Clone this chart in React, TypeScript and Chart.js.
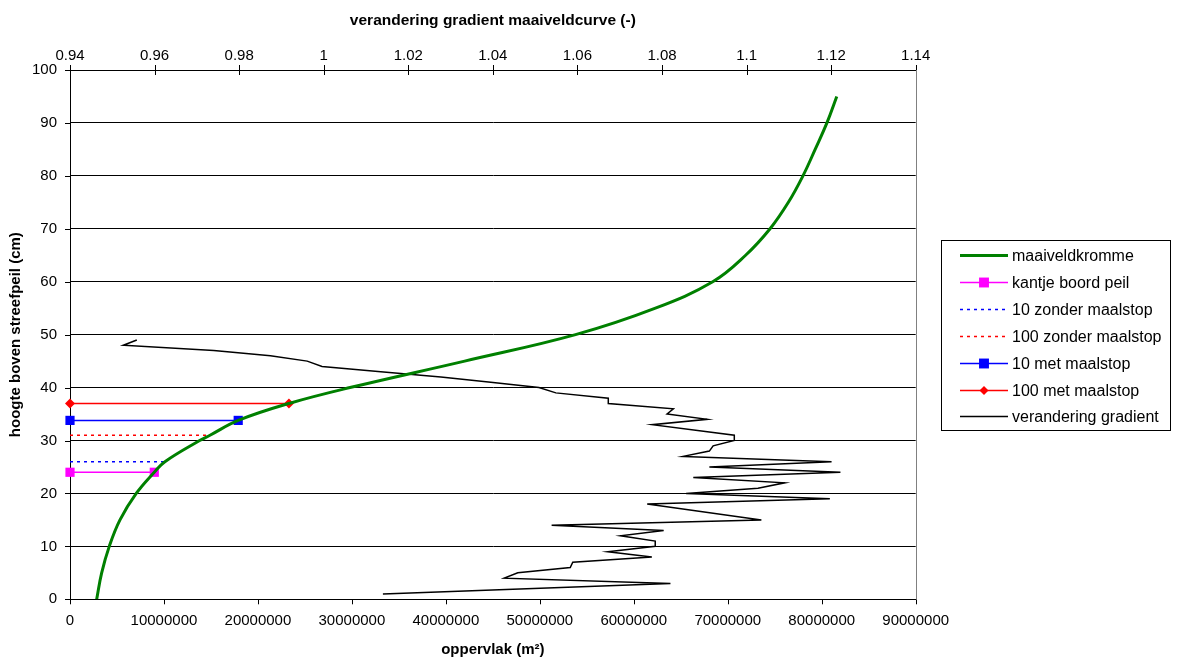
import React, { useEffect, useRef } from "react";
import { Chart, registerables } from "chart.js";

Chart.register(...registerables);

const FONT = "'Liberation Sans', Arial, sans-serif";

// maaiveldkromme: height (cm) vs area (m2)
const groundHeights = [0, 5, 10, 15, 20, 24, 26, 30, 31, 33.8, 37, 40, 45, 50, 55, 60, 65, 70, 75, 80, 85, 90, 95];
const groundAreas = [
  2840000, 3370000, 4180000, 5320000, 7050000, 8970000, 10100000, 13800000, 14900000, 17900000,
  23300000, 29800000, 42000000, 53800000, 62300000, 68400000, 71900000, 74500000, 76450000, 78000000,
  79300000, 80550000, 81600000,
];

// verandering gradient: height (cm) vs gradient change (-)
const gradientHeights = [49, 48, 47, 46, 45, 44, 43, 42, 41, 40, 39, 38, 37, 36, 35, 34, 33, 31, 30, 29, 28, 27, 26, 25, 24, 23, 22, 21, 20, 19, 18, 15, 14, 13, 12, 11, 10, 9, 8, 7, 6, 5, 4, 3, 1];
const gradientValues = [
  0.9558, 0.9526, 0.974, 0.9874, 0.9961, 0.9996, 1.0135, 1.0277, 1.0395, 1.0509, 1.0549, 1.0673, 1.0673,
  1.0827, 1.0812, 1.0907, 1.0777, 1.0971, 1.0971, 1.0921, 1.0912, 1.085, 1.1201, 1.0912, 1.1222, 1.0874,
  1.109, 1.1027, 1.0857, 1.1197, 1.0765, 1.1035, 1.0539, 1.0804, 1.0702, 1.0784, 1.0784, 1.0672, 1.0776,
  1.0589, 1.0583, 1.0459, 1.0427, 1.082, 1.014,
];

// water levels
const levelNames = ["kantje boord peil", "10 zonder maalstop", "100 zonder maalstop", "10 met maalstop", "100 met maalstop"];
const levelHeights = [24, 26, 31, 33.8, 37];
const levelAreas = [8970000, 10100000, 14900000, 17900000, 23300000];

const seriesNames = ["maaiveldkromme", ...levelNames, "verandering gradient"];

const areaMin = 0;
const areaMax = 90000000;
const areaStep = 10000000;
const gradMin = 0.94;
const gradMax = 1.14;
const gradStep = 0.02;
const heightMin = 0;
const heightMax = 100;
const heightStep = 10;

const levelStyles = [
  { color: "#FF00FF", dash: [] as number[], point: "rect", radius: 6.5 },
  { color: "#0000FF", dash: [3, 4], point: "circle", radius: 0 },
  { color: "#FF0000", dash: [3, 4], point: "circle", radius: 0 },
  { color: "#0000FF", dash: [] as number[], point: "rect", radius: 6.5 },
  { color: "#FF0000", dash: [] as number[], point: "rectRot", radius: 5 },
];

const LEGEND_X = 941.5;
const LEGEND_Y = 240.5;
const LEGEND_W = 229;
const LEGEND_H = 190;
const legendRowY = (i: number) => Math.round(255 + i * 26.9) + 0.5;

function drawMarker(ctx: CanvasRenderingContext2D, style: string, x: number, y: number, r: number, color: string) {
  ctx.save();
  ctx.fillStyle = color;
  ctx.setLineDash([]);
  if (style === "rect") {
    const s = Math.SQRT1_2 * r;
    ctx.fillRect(x - s, y - s, 2 * s, 2 * s);
  } else if (style === "rectRot") {
    ctx.beginPath();
    ctx.moveTo(x - r, y);
    ctx.lineTo(x, y - r);
    ctx.lineTo(x + r, y);
    ctx.lineTo(x, y + r);
    ctx.closePath();
    ctx.fill();
  }
  ctx.restore();
}

const decorPlugin = {
  id: "decor",
  afterDraw(chart: any) {
    const { ctx, chartArea: a, scales } = chart;
    ctx.save();
    ctx.strokeStyle = "#000";
    ctx.lineWidth = 1;
    ctx.setLineDash([]);
    const seg = (x1: number, y1: number, x2: number, y2: number) => {
      ctx.beginPath();
      ctx.moveTo(x1, y1);
      ctx.lineTo(x2, y2);
      ctx.stroke();
    };
    scales.y.ticks.forEach((t: any) => {
      const py = Math.round(scales.y.getPixelForValue(t.value)) + 0.5;
      seg(a.left - 5, py, a.left, py);
    });
    scales.x.ticks.forEach((t: any) => {
      const px = Math.round(scales.x.getPixelForValue(t.value)) + 0.5;
      seg(px, a.bottom, px, a.bottom + 5);
    });
    scales.x2.ticks.forEach((t: any) => {
      const px = Math.round(scales.x2.getPixelForValue(t.value)) + 0.5;
      seg(px, a.top - 5, px, a.top + 5);
    });
    ctx.strokeStyle = "#808080";
    const rx = Math.round(a.right) + 0.5;
    seg(rx, a.top, rx, a.bottom);

    // legend box, line samples and markers (labels are HTML text)
    ctx.strokeStyle = "#000";
    ctx.strokeRect(LEGEND_X, LEGEND_Y, LEGEND_W, LEGEND_H);
    chart.data.datasets.forEach((ds: any, i: number) => {
      const y = legendRowY(i);
      ctx.save();
      ctx.strokeStyle = ds.borderColor;
      ctx.lineWidth = ds.borderWidth;
      ctx.setLineDash(ds.borderDash || []);
      seg(960, y, 1008, y);
      ctx.restore();
      if (ds.pointRadius > 0) {
        drawMarker(ctx, ds.pointStyle, 984, y, ds.pointStyle === "rectRot" ? 4.5 : 7, ds.borderColor);
      }
    });
    ctx.restore();
  },
};

export default function App() {
  const ref = useRef<HTMLCanvasElement>(null);

  useEffect(() => {
    if (!ref.current) return;
    Chart.defaults.font.family = FONT;
    Chart.defaults.color = "#000";

    const datasets: any[] = [];
    datasets.push({
      label: seriesNames[0],
      data: groundHeights.map((h, i) => ({ x: groundAreas[i], y: h })),
      xAxisID: "x",
      yAxisID: "y",
      showLine: true,
      borderColor: "#008000",
      backgroundColor: "#008000",
      borderWidth: 3,
      pointRadius: 0,
      tension: 0.4,
    });
    levelNames.forEach((name, i) => {
      const st = levelStyles[i];
      datasets.push({
        label: name,
        data: [
          { x: 0, y: levelHeights[i] },
          { x: levelAreas[i], y: levelHeights[i] },
        ],
        xAxisID: "x",
        yAxisID: "y",
        showLine: true,
        borderColor: st.color,
        backgroundColor: st.color,
        pointBackgroundColor: st.color,
        pointBorderColor: st.color,
        pointBorderWidth: 0,
        borderWidth: 1.5,
        borderDash: st.dash,
        pointStyle: st.point,
        pointRadius: st.radius,
        clip: false,
      });
    });
    datasets.push({
      label: seriesNames[6],
      data: gradientHeights.map((h, i) => ({ x: gradientValues[i], y: h })),
      xAxisID: "x2",
      yAxisID: "y",
      showLine: true,
      borderColor: "#000000",
      backgroundColor: "#000000",
      borderWidth: 1.5,
      pointRadius: 0,
      tension: 0,
    });

    const chart = new Chart(ref.current, {
      type: "scatter",
      data: { datasets },
      plugins: [decorPlugin],
      options: {
        responsive: false,
        animation: false,
        devicePixelRatio: 1,
        layout: { padding: { left: 0, top: 0, right: 262.3, bottom: 0 } },
        plugins: {
          legend: { display: false },
          tooltip: { enabled: false },
        },
        scales: {
          x: {
            type: "linear",
            position: "bottom",
            min: areaMin,
            max: areaMax,
            afterFit: (s: any) => {
              s.height = 62.7;
            },
            ticks: {
              stepSize: areaStep,
              padding: 13,
              maxRotation: 0,
              autoSkip: false,
              font: { size: 15 },
              color: "#000",
              callback: (v: any) => String(Math.round(Number(v))),
            },
            grid: { display: false, drawTicks: false },
            border: { display: true, color: "#000", width: 1 },
            title: {
              display: true,
              text: "oppervlak (m²)",
              font: { size: 15, weight: "bold" },
              color: "#000",
              padding: { top: 0, bottom: 3 },
            },
          },
          x2: {
            type: "linear",
            position: "top",
            min: gradMin,
            max: gradMax,
            afterFit: (s: any) => {
              s.height = 70;
            },
            ticks: {
              stepSize: gradStep,
              padding: 5,
              maxRotation: 0,
              autoSkip: false,
              font: { size: 15 },
              color: "#000",
              callback: (v: any) => String(Number(Number(v).toFixed(2))),
            },
            grid: { display: false, drawTicks: false },
            border: { display: true, color: "#000", width: 1 },
            title: {
              display: true,
              text: "verandering gradient maaiveldcurve (-)",
              font: { size: 15.5, weight: "bold" },
              color: "#000",
              padding: { top: 11, bottom: 0 },
            },
          },
          y: {
            type: "linear",
            position: "left",
            min: heightMin,
            max: heightMax,
            afterFit: (s: any) => {
              s.width = 70;
            },
            ticks: {
              stepSize: heightStep,
              padding: 13,
              font: { size: 15 },
              color: "#000",
            },
            grid: { color: "#000", lineWidth: 1, drawTicks: false },
            border: { display: true, color: "#000", width: 1 },
            title: {
              display: true,
              text: "hoogte boven streefpeil (cm)",
              font: { size: 15, weight: "bold" },
              color: "#000",
              padding: { top: 7, bottom: 0 },
            },
          },
        },
      } as any,
    });
    return () => chart.destroy();
  }, []);

  return (
    <div style={{ position: "absolute", left: 0, top: 0, width: 1178, height: 662 }}>
      <canvas ref={ref} width={1178} height={662} style={{ display: "block" }} />
      {seriesNames.map((name, i) => (
        <span
          key={name}
          style={{
            position: "absolute",
            left: 1012,
            top: legendRowY(i) - 10,
            height: 20,
            lineHeight: "20px",
            fontFamily: FONT,
            fontSize: 16,
            color: "#000",
            whiteSpace: "nowrap",
          }}
        >
          {name}
        </span>
      ))}
    </div>
  );
}
